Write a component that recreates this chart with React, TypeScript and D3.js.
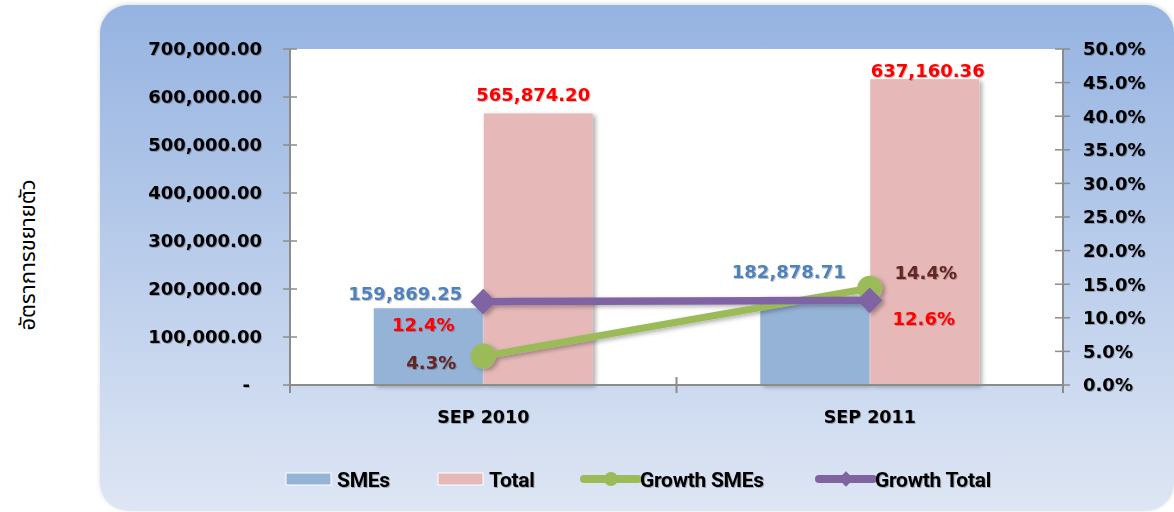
import React, { useRef, useEffect } from "react";
import * as d3 from "d3";

const categories = ["SEP 2010", "SEP 2011"];
const smes = [159869.25, 182878.71];
const total = [565874.2, 637160.36];
const growthSmes = [0.043, 0.144];
const growthTotal = [0.124, 0.126];
const leftTicks = [0, 100000, 200000, 300000, 400000, 500000, 600000, 700000];
const rightTicks = [0, 0.05, 0.1, 0.15, 0.2, 0.25, 0.3, 0.35, 0.4, 0.45, 0.5];

// label nudges (px), same order as categories
const smesLabelOff = [[-23, -8], [-26, -19]];
const totalLabelOff = [[-5, -12], [3, -2]];
const gSmesLabelOff = [[-52, 13], [56, -9]];
const gTotalLabelOff = [[-60, 29], [54, 25]];

const BOLD = "'DejaVu Sans', Verdana, sans-serif";

const App = () => {
  const node: any = useRef();

  useEffect(() => {
    document.body.style.margin = "0";
    const width = 1174,
      height = 512;
    const left = 290,
      right = 1063,
      top = 49,
      bottom = 385;

    const svg = d3.select(node.current).attr("width", width).attr("height", height);
    svg.selectAll("*").remove();

    const defs = svg.append("defs");
    const grad = defs
      .append("linearGradient")
      .attr("id", "bg")
      .attr("x1", 0)
      .attr("y1", 0)
      .attr("x2", 0)
      .attr("y2", 1);
    grad.append("stop").attr("offset", "0%").attr("stop-color", "#95B3E1");
    grad.append("stop").attr("offset", "100%").attr("stop-color", "#DEE6F4");

    const shadow = defs
      .append("filter")
      .attr("id", "sh")
      .attr("x", "-20%")
      .attr("y", "-20%")
      .attr("width", "150%")
      .attr("height", "150%");
    shadow
      .append("feDropShadow")
      .attr("dx", 3)
      .attr("dy", 2)
      .attr("stdDeviation", 2)
      .attr("flood-color", "#000")
      .attr("flood-opacity", 0.3);

    const txtSh = defs.append("filter").attr("id", "tsh");
    txtSh
      .append("feDropShadow")
      .attr("dx", 1)
      .attr("dy", 1)
      .attr("stdDeviation", 0.6)
      .attr("flood-color", "#000")
      .attr("flood-opacity", 0.25);

    const cardSh = defs.append("filter").attr("id", "csh");
    cardSh
      .append("feDropShadow")
      .attr("dx", 0)
      .attr("dy", -1)
      .attr("stdDeviation", 2)
      .attr("flood-color", "#000")
      .attr("flood-opacity", 0.15);

    // card
    svg
      .append("rect")
      .attr("x", 100)
      .attr("y", 5)
      .attr("width", 1074)
      .attr("height", 506)
      .attr("rx", 28)
      .attr("fill", "url(#bg)")
      .attr("filter", "url(#csh)");

    // plot area
    svg
      .append("rect")
      .attr("x", left)
      .attr("y", top)
      .attr("width", right - left)
      .attr("height", bottom - top)
      .attr("fill", "#fff");

    const x0 = d3.scaleBand().domain(categories).range([left, right]).padding(0);
    const x1 = d3
      .scaleBand()
      .domain(["SMEs", "Total"])
      .range([0, x0.bandwidth()])
      .paddingInner(0)
      .paddingOuter(0.757);
    const yL = d3.scaleLinear().domain([0, 700000]).range([bottom, top]);
    const yR = d3.scaleLinear().domain([0, 0.5]).range([bottom, top]);
    const cx = (c: string) => (x0(c) as number) + x0.bandwidth() / 2;

    // bars
    const bars = svg.append("g").attr("filter", "url(#sh)");
    [
      { key: "SMEs", vals: smes, color: "#95B3D7" },
      { key: "Total", vals: total, color: "#E6B9B8" }
    ].forEach(s => {
      bars
        .selectAll(null)
        .data(s.vals)
        .enter()
        .append("rect")
        .attr("x", (_, i) => (x0(categories[i]) as number) + (x1(s.key) as number) + 0.5)
        .attr("width", x1.bandwidth() - 1)
        .attr("y", d => yL(d))
        .attr("height", d => bottom - yL(d))
        .attr("fill", s.color);
    });

    // axes
    const axisColor = "#8C8C8C";
    const ax = svg.append("g").attr("stroke", axisColor);
    ax.append("line").attr("x1", left).attr("x2", left).attr("y1", top).attr("y2", bottom).attr("stroke-width", 2);
    ax.append("line").attr("x1", right).attr("x2", right).attr("y1", top).attr("y2", bottom).attr("stroke-width", 2);
    ax.append("line").attr("x1", left).attr("x2", right).attr("y1", bottom).attr("y2", bottom).attr("stroke-width", 2);
    ax.selectAll(null)
      .data(leftTicks)
      .enter()
      .append("line")
      .attr("x1", left - 7)
      .attr("x2", left + 7)
      .attr("y1", d => yL(d))
      .attr("y2", d => yL(d))
      .attr("stroke-width", 1.5);
    ax.selectAll(null)
      .data(rightTicks)
      .enter()
      .append("line")
      .attr("x1", right - 8)
      .attr("x2", right + 7)
      .attr("y1", d => yR(d))
      .attr("y2", d => yR(d))
      .attr("stroke-width", 1.5);
    ax.selectAll(null)
      .data([left, x0(categories[1]) as number, right])
      .enter()
      .append("line")
      .attr("x1", d => d)
      .attr("x2", d => d)
      .attr("y1", bottom - 8)
      .attr("y2", bottom + 8)
      .attr("stroke-width", 2);

    const fmt = d3.format(",.2f");
    const pct = d3.format(".1%");

    // left tick labels
    svg
      .append("g")
      .attr("filter", "url(#tsh)")
      .selectAll("text")
      .data(leftTicks)
      .enter()
      .append("text")
      .attr("x", d => (d === 0 ? 250 : 262))
      .attr("y", d => yL(d))
      .attr("dy", "0.36em")
      .attr("text-anchor", "end")
      .attr("font-family", BOLD)
      .attr("font-weight", "bold")
      .attr("font-size", 18)
      .attr("fill", "#000")
      .text(d => (d === 0 ? "-" : fmt(d)));

    // right tick labels
    svg
      .append("g")
      .attr("filter", "url(#tsh)")
      .selectAll("text")
      .data(rightTicks)
      .enter()
      .append("text")
      .attr("x", 1083)
      .attr("y", d => yR(d))
      .attr("dy", "0.36em")
      .attr("font-family", BOLD)
      .attr("font-weight", "bold")
      .attr("font-size", 18)
      .attr("fill", "#000")
      .text(d => pct(d));

    // category labels
    svg
      .append("g")
      .attr("filter", "url(#tsh)")
      .selectAll("text")
      .data(categories)
      .enter()
      .append("text")
      .attr("x", d => cx(d))
      .attr("y", 423)
      .attr("text-anchor", "middle")
      .attr("font-family", BOLD)
      .attr("font-weight", "bold")
      .attr("font-size", 17.5)
      .attr("fill", "#000")
      .text(d => d);

    // y title
    svg
      .append("text")
      .attr("transform", "translate(35,255) rotate(-90)")
      .attr("text-anchor", "middle")
      .attr("font-family", "Tahoma, 'Noto Sans Thai', 'Noto Sans', sans-serif")
      .attr("font-size", 22)
      .attr("fill", "#000")
      .text("อัตราการขยายตัว");

    // lines
    const line = d3
      .line<number>()
      .x((_, i) => cx(categories[i]))
      .y(d => yR(d));
    const lines = svg.append("g").attr("filter", "url(#sh)");
    lines
      .append("path")
      .datum(growthSmes)
      .attr("d", line)
      .attr("fill", "none")
      .attr("stroke", "#9BBB59")
      .attr("stroke-width", 7);
    lines
      .append("path")
      .datum(growthTotal)
      .attr("d", line)
      .attr("fill", "none")
      .attr("stroke", "#8064A2")
      .attr("stroke-width", 7.5);
    lines
      .selectAll(null)
      .data(growthSmes)
      .enter()
      .append("circle")
      .attr("cx", (_, i) => cx(categories[i]))
      .attr("cy", d => yR(d))
      .attr("r", 12.5)
      .attr("fill", "#9BBB59");
    const diamond = d3.symbol().type(d3.symbolDiamond2).size(420);
    lines
      .selectAll(null)
      .data(growthTotal)
      .enter()
      .append("path")
      .attr("d", diamond as any)
      .attr("transform", (d, i) => `translate(${cx(categories[i])},${yR(d)})`)
      .attr("fill", "#8064A2");

    // data labels
    const labels = svg
      .append("g")
      .attr("filter", "url(#tsh)")
      .attr("font-family", BOLD)
      .attr("font-weight", "bold")
      .attr("font-size", 18)
      .attr("text-anchor", "middle");
    const barLabel = (vals: number[], key: string, off: number[][], color: string) =>
      labels
        .selectAll(null)
        .data(vals)
        .enter()
        .append("text")
        .attr("x", (_, i) => (x0(categories[i]) as number) + (x1(key) as number) + x1.bandwidth() / 2 + off[i][0])
        .attr("y", (d, i) => yL(d) + off[i][1])
        .attr("fill", color)
        .text(d => fmt(d));
    barLabel(smes, "SMEs", smesLabelOff, "#4F81BD");
    barLabel(total, "Total", totalLabelOff, "#FF0000");
    const lineLabel = (vals: number[], off: number[][], color: string) =>
      labels
        .selectAll(null)
        .data(vals)
        .enter()
        .append("text")
        .attr("x", (_, i) => cx(categories[i]) + off[i][0])
        .attr("y", (d, i) => yR(d) + off[i][1])
        .attr("fill", color)
        .text(d => pct(d));
    lineLabel(growthSmes, gSmesLabelOff, "#632523");
    lineLabel(growthTotal, gTotalLabelOff, "#FF0000");

    // legend
    const lg = svg
      .append("g")
      .attr("font-family", "Roboto, 'Liberation Sans', sans-serif")
      .attr("font-weight", "bold")
      .attr("font-size", 21)
      .attr("fill", "#000");
    const ly = 479;
    const rectItems = [
      { name: "SMEs", color: "#95B3D7", x: 286 },
      { name: "Total", color: "#E6B9B8", x: 438 }
    ];
    rectItems.forEach(it => {
      lg.append("rect")
        .attr("x", it.x)
        .attr("y", ly - 6)
        .attr("width", 45)
        .attr("height", 12)
        .attr("fill", it.color)
        .attr("stroke", "#fff")
        .attr("stroke-width", 1);
      lg.append("text")
        .attr("x", it.x + 51)
        .attr("y", ly)
        .attr("dy", "0.36em")
        .attr("letter-spacing", -0.3)
        .attr("filter", "url(#tsh)")
        .text(it.name);
    });
    const lineItems = [
      { name: "Growth SMEs", color: "#9BBB59", x: 584, marker: "circle" },
      { name: "Growth Total", color: "#8064A2", x: 819, marker: "diamond" }
    ];
    lineItems.forEach(it => {
      lg.append("line")
        .attr("x1", it.x)
        .attr("x2", it.x + 54)
        .attr("y1", ly)
        .attr("y2", ly)
        .attr("stroke", it.color)
        .attr("stroke-width", 8)
        .attr("stroke-linecap", "round");
      if (it.marker === "circle") {
        lg.append("circle").attr("cx", it.x + 27).attr("cy", ly).attr("r", 7).attr("fill", it.color);
      } else {
        lg.append("path")
          .attr("d", d3.symbol().type(d3.symbolDiamond2).size(150)() as string)
          .attr("transform", `translate(${it.x + 27},${ly})`)
          .attr("fill", it.color);
      }
      lg.append("text")
        .attr("x", it.x + 56)
        .attr("y", ly)
        .attr("dy", "0.36em")
        .attr("letter-spacing", -0.3)
        .attr("filter", "url(#tsh)")
        .text(it.name);
    });
  }, []);

  return <svg ref={node}></svg>;
};

export default App;
